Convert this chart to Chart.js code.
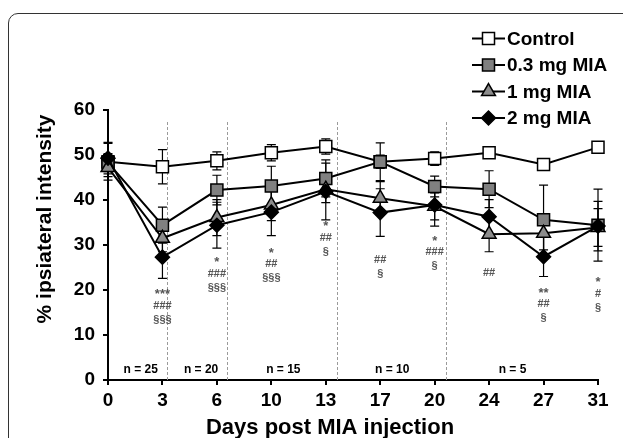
<!DOCTYPE html>
<html lang="en">
<head>
  <meta charset="UTF-8" />
  <title>% ipsiateral intensity</title>
  <script src="https://cdn.jsdelivr.net/npm/chart.js@4.4.3/dist/chart.umd.js"></script>
  <style>
    html,body{margin:0;padding:0;background:#fff}
    #wrap{width:623px;height:438px}
  </style>
</head>
<body>
  <div id="wrap"><canvas id="chart" width="623" height="438"></canvas></div>

  <script>
    /* ==== DATA ==== */
    const days = ['0','3','6','10','13','17','20','24','27','31'];

    const control    = [48.5, 47.4, 48.7, 50.5, 51.9, 48.5, 49.2, 50.5, 47.9, 51.7];
    const controlErr = [4.1,  3.8,  2.0,  1.8,  1.7,  1.5,  1.5,  1.2,  1.2,  1.0];
    const mia03      = [48.3, 34.4, 42.2, 43.1, 44.8, 48.5, 43.0, 42.4, 35.6, 34.4];
    const mia03Err   = [2.0,  4.0,  3.3,  4.4,  4.1,  4.2,  2.3,  4.1,  7.7,  8.0];
    const mia1       = [47.2, 31.5, 36.1, 38.9, 42.4, 40.4, 38.6, 32.4, 32.6, 33.9];
    const mia1Err    = [2.0,  3.0,  4.0,  3.5,  3.0,  3.7,  3.0,  3.9,  3.7,  4.2];
    const mia2       = [49.3, 27.3, 34.4, 37.3, 41.9, 37.2, 38.9, 36.3, 27.4, 34.2];
    const mia2Err    = [3.5,  4.7,  5.1,  5.2,  6.3,  5.3,  4.7,  3.8,  4.4,  5.5];

    const seriesNames = ['Control', '0.3 mg MIA', '1 mg MIA', '2 mg MIA'];

    // significance marks under each day (day index, value of first line, lines)
    const sigDay   = [1, 2, 3, 4, 5, 6, 7, 8, 9];
    const sigTop   = [19.6, 26.7, 28.9, 34.7, 26.7, 31.5, 23.7, 20.0, 22.3];
    const sigLines = [
      ['***','###','§§§'], ['*','###','§§§'], ['*','##','§§§'], ['*','##','§'],
      ['##','§'], ['*','###','§'], ['##'], ['**','##','§'], ['*','#','§']
    ];

    // group sizes and group boundaries (in day-index units)
    const groupN     = ['n = 25', 'n = 20', 'n = 15', 'n = 10', 'n = 5'];
    const groupMid   = [0.6, 1.71, 3.22, 5.22, 7.43];
    const groupEdges = [1.08, 2.18, 4.2, 6.2];

    /* ==== STYLE ==== */
    const FONT = "'Liberation Sans', Arial, sans-serif";
    Chart.defaults.font.family = FONT;
    Chart.defaults.color = '#000';

    function series(label, vals, err, style, fill, radius, order){
      return {
        label, err, order,
        data: vals.map((y, i) => ({x: i, y})),
        borderColor: '#000', borderWidth: 2, tension: 0,
        pointStyle: style, pointRadius: radius, pointHoverRadius: radius,
        pointBackgroundColor: fill, pointBorderColor: '#000', pointBorderWidth: 1.5,
        clip: false
      };
    }

    const datasets = [
      series(seriesNames[0], control, controlErr, 'rect',     '#fff',    8.5, 4),
      series(seriesNames[1], mia03,   mia03Err,   'rect',     '#808080', 8.5, 3),
      series(seriesNames[2], mia1,    mia1Err,    'triangle', '#8c8c8c', 8,   2),
      series(seriesNames[3], mia2,    mia2Err,    'rectRot',  '#000',    7,   1)
    ];

    /* ==== PLUGINS ==== */
    const backLayer = {
      id: 'backLayer',
      beforeDatasetsDraw(chart){
        const {ctx, scales: {x, y}} = chart;
        ctx.save();
        // group boundaries
        ctx.strokeStyle = '#9a9a9a'; ctx.lineWidth = 1; ctx.setLineDash([3, 2]);
        groupEdges.forEach(v => {
          const px = Math.round(x.getPixelForValue(v)) + 0.5;
          ctx.beginPath(); ctx.moveTo(px, y.getPixelForValue(0)); ctx.lineTo(px, y.getPixelForValue(57.5)); ctx.stroke();
        });
        ctx.setLineDash([]);
        // error bars
        ctx.strokeStyle = '#000'; ctx.lineWidth = 1.2;
        chart.data.datasets.forEach(ds => {
          ds.data.forEach((p, i) => {
            const px = x.getPixelForValue(p.x);
            const hi = y.getPixelForValue(p.y + ds.err[i]), lo = y.getPixelForValue(p.y - ds.err[i]);
            ctx.beginPath();
            ctx.moveTo(px, hi); ctx.lineTo(px, lo);
            ctx.moveTo(px - 4.5, hi); ctx.lineTo(px + 4.5, hi);
            ctx.moveTo(px - 4.5, lo); ctx.lineTo(px + 4.5, lo);
            ctx.stroke();
          });
        });
        ctx.restore();
      }
    };

    const overlay = {
      id: 'overlay',
      afterDraw(chart){
        const {ctx, scales: {x, y}} = chart;
        ctx.save();
        ctx.textAlign = 'center'; ctx.textBaseline = 'middle';

        // significance marks (asterisks sit high in the font, so nudge them down)
        ctx.fillStyle = '#555';
        sigDay.forEach((d, k) => {
          const px = x.getPixelForValue(d), py = y.getPixelForValue(sigTop[k]);
          sigLines[k].forEach((t, j) => {
            const star = t[0] === '*';
            ctx.font = `bold ${star ? 13 : 11}px ${FONT}`;
            ctx.fillText(t, px, py + j * 14 + (star ? 3 : 0));
          });
        });

        // n = ...
        ctx.fillStyle = '#000'; ctx.font = `bold 12px ${FONT}`;
        groupN.forEach((t, k) => ctx.fillText(t, x.getPixelForValue(groupMid[k]), y.getPixelForValue(2.3)));

        // legend
        chart.data.datasets.forEach((ds, i) => {
          const ly = 38.5 + i * 26.5;
          ctx.strokeStyle = '#000'; ctx.lineWidth = 2;
          ctx.beginPath(); ctx.moveTo(472, ly); ctx.lineTo(505, ly); ctx.stroke();
          ctx.fillStyle = ds.pointBackgroundColor; ctx.lineWidth = ds.pointBorderWidth;
          Chart.helpers.drawPoint(ctx, {pointStyle: ds.pointStyle, radius: ds.pointRadius, rotation: 0, borderWidth: ds.pointBorderWidth}, 488.5, ly);
          ctx.fillStyle = '#000'; ctx.font = `bold 19px ${FONT}`; ctx.textAlign = 'left';
          ctx.fillText(ds.label, 507, ly + 1);
          ctx.textAlign = 'center';
        });

        // axis titles
        ctx.font = `bold 22px ${FONT}`; ctx.textBaseline = 'alphabetic';
        ctx.fillText('Days post MIA injection', 330, 434);
        ctx.translate(51, 219); ctx.rotate(-Math.PI / 2);
        ctx.font = `bold 21px ${FONT}`;
        ctx.fillText('% ipsiateral intensity', 0, 0);
        ctx.setTransform(1, 0, 0, 1, 0, 0);

        // figure frame
        ctx.strokeStyle = '#333'; ctx.lineWidth = 1;
        ctx.beginPath();
        ctx.moveTo(8.5, 460); ctx.lineTo(8.5, 23);
        ctx.arcTo(8.5, 13.5, 18, 13.5, 9.5);
        ctx.lineTo(640, 13.5);
        ctx.stroke();
        ctx.restore();
      }
    };

    /* ==== CHART ==== */
    new Chart(document.getElementById('chart'), {
      type: 'line',
      data: {datasets},
      options: {
        responsive: false, animation: false,
        layout: {padding: {top: 110, right: 25, bottom: 0, left: 0}},
        plugins: {legend: {display: false}, tooltip: {enabled: false}},
        scales: {
          x: {
            type: 'linear', min: 0, max: 9,
            ticks: {stepSize: 1, autoSkip: false, maxRotation: 0, padding: 4,
                    callback: v => days[v], font: {size: 19, weight: 'bold'}, color: '#000'},
            grid: {drawOnChartArea: false, drawTicks: true, tickLength: 5, color: '#000', lineWidth: 2},
            border: {display: true, color: '#000', width: 2},
            afterFit(s){ s.height = 58; }
          },
          y: {
            min: 0, max: 60,
            ticks: {stepSize: 10, padding: 8, font: {size: 19, weight: 'bold'}, color: '#000'},
            grid: {drawOnChartArea: false, drawTicks: true, tickLength: 5, color: '#000', lineWidth: 2},
            border: {display: true, color: '#000', width: 2},
            afterFit(s){ s.width = 108; }
          }
        }
      },
      plugins: [backLayer, overlay]
    });
  </script>
</body>
</html>
